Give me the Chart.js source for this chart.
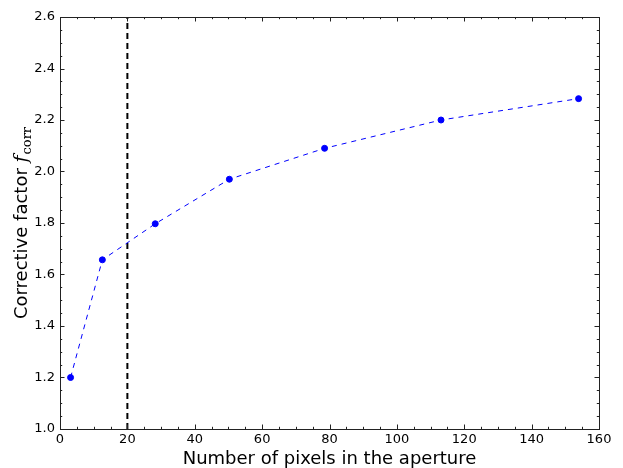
<!DOCTYPE html>
<html>
<head>
<meta charset="utf-8">
<script src="https://cdn.jsdelivr.net/npm/chart.js@4"></script>
<style>
  html, body { margin: 0; padding: 0; background: #fff; }
  #wrap { width: 623px; height: 468px; }
</style>
</head>
<body>
<div id="wrap"><canvas id="c" width="623" height="468"></canvas></div>
<script>
// Aperture size (pixels) and corrective factor
const apertureNpix = [3.14, 12.57, 28.27, 50.27, 78.54, 113.10, 153.94];
const corrFactor   = [1.20, 1.657, 1.797, 1.970, 2.090, 2.200, 2.283];
// Threshold marker
const thresholdX = 20;
const thresholdY = [1.0, 2.6];
// Axis ranges / ticks
const xTicks = [0, 20, 40, 60, 80, 100, 120, 140, 160];
const yTicks = [1.0, 1.2, 1.4, 1.6, 1.8, 2.0, 2.2, 2.4, 2.6];
const xMinorStep = 5;
const yMinorStep = 0.05;

const seriesPts = apertureNpix.map((x, i) => ({ x: x, y: corrFactor[i] }));
const thresholdPts = thresholdY.map(y => ({ x: thresholdX, y: y }));

const FONT = "'DejaVu Sans', sans-serif";

// Frame, inward ticks on all four sides, and axis titles
const framePlugin = {
  id: 'frame',
  afterDraw(chart) {
    const ctx = chart.ctx;
    const a = chart.chartArea;
    const xs = chart.scales.x, ys = chart.scales.y;
    ctx.save();
    ctx.strokeStyle = '#222';
    ctx.lineWidth = 1;
    ctx.strokeRect(Math.round(a.left) + 0.5, Math.round(a.top) + 0.5,
                   Math.round(a.right - a.left), Math.round(a.bottom - a.top));
    const major = 4.5, minor = 2.2;
    ctx.beginPath();
    for (let v = xs.min; v <= xs.max + 1e-9; v += xMinorStep) {
      const isMajor = Math.abs(v / 20 - Math.round(v / 20)) < 1e-6;
      const L = isMajor ? major : minor;
      const px = Math.round(xs.getPixelForValue(v)) + 0.5;
      ctx.moveTo(px, a.bottom); ctx.lineTo(px, a.bottom - L);
      ctx.moveTo(px, a.top); ctx.lineTo(px, a.top + L);
    }
    for (let v = ys.min; v <= ys.max + 1e-9; v += yMinorStep) {
      const isMajor = Math.abs(v / 0.2 - Math.round(v / 0.2)) < 1e-6;
      const L = isMajor ? major : minor;
      const py = Math.round(ys.getPixelForValue(v)) + 0.5;
      ctx.moveTo(a.left, py); ctx.lineTo(a.left + L, py);
      ctx.moveTo(a.right, py); ctx.lineTo(a.right - L, py);
    }
    ctx.stroke();

    // x title
    ctx.fillStyle = '#000';
    ctx.font = '18px ' + FONT;
    ctx.textAlign = 'center';
    ctx.textBaseline = 'middle';
    ctx.fillText('Number of pixels in the aperture', (a.left + a.right) / 2, 459);

    // y title with italic f and subscript
    const main = 'Corrective factor ';
    const fMain = '18px ' + FONT;
    const fIt = 'italic 19px "DejaVu Serif", serif';
    const fSub = '13px "DejaVu Serif", serif';
    ctx.font = fMain; const w1 = ctx.measureText(main).width;
    ctx.font = fIt; const w2 = ctx.measureText('f').width + 1;
    ctx.font = fSub; const w3 = ctx.measureText('corr').width;
    const total = w1 + w2 + w3;
    ctx.translate(21, (a.top + a.bottom) / 2);
    ctx.rotate(-Math.PI / 2);
    ctx.textAlign = 'left';
    ctx.textBaseline = 'alphabetic';
    let x0 = -total / 2;
    const base = 6;
    ctx.font = fMain; ctx.fillText(main, x0, base); x0 += w1;
    ctx.font = fIt; ctx.fillText('f', x0, base); x0 += w2;
    ctx.font = fSub; ctx.fillText('corr', x0, base + 4);
    ctx.restore();
  }
};

new Chart(document.getElementById('c'), {
  type: 'scatter',
  data: {
    datasets: [
      {
        data: seriesPts,
        showLine: true,
        borderColor: '#0000ff',
        borderWidth: 1,
        borderDash: [5, 5],
        backgroundColor: '#0000ff',
        pointBackgroundColor: '#0000ff',
        pointBorderColor: '#0000ff',
        pointRadius: 3,
        pointBorderWidth: 1,
        tension: 0
      },
      {
        data: thresholdPts,
        showLine: true,
        borderColor: '#000',
        borderWidth: 2,
        borderDash: [6, 4],
        pointRadius: 0
      }
    ]
  },
  options: {
    responsive: false,
    animation: false,
    events: [],
    layout: { padding: { left: 0, top: 17, right: 24, bottom: 0 } },
    plugins: { legend: { display: false }, tooltip: { enabled: false } },
    scales: {
      x: {
        type: 'linear', min: 0, max: 160,
        afterBuildTicks: s => { s.ticks = xTicks.map(v => ({ value: v })); },
        afterFit: s => { s.height = 39; },
        grid: { display: false, drawTicks: false },
        border: { display: false },
        ticks: { color: '#000', font: { family: FONT, size: 13 }, padding: 3, maxRotation: 0,
                 callback: v => String(v) }
      },
      y: {
        type: 'linear', min: 1.0, max: 2.6,
        afterBuildTicks: s => { s.ticks = yTicks.map(v => ({ value: v })); },
        afterFit: s => { s.width = 60; },
        grid: { display: false, drawTicks: false },
        border: { display: false },
        ticks: { color: '#000', font: { family: FONT, size: 13 }, padding: 5,
                 callback: v => Number(v).toFixed(1) }
      }
    }
  },
  plugins: [framePlugin]
});
</script>
</body>
</html>
